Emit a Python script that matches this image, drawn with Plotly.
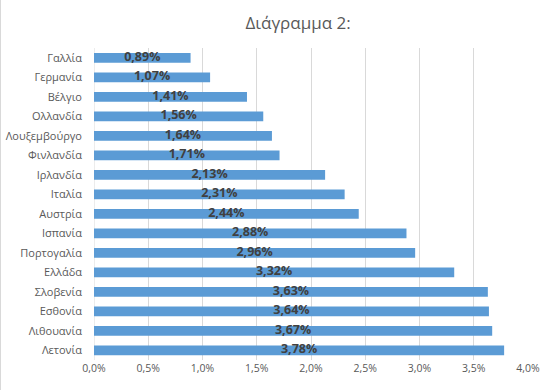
import plotly.graph_objects as go

countries = ["Γαλλία", "Γερμανία", "Βέλγιο", "Ολλανδία", "Λουξεμβούργο", "Φινλανδία",
             "Ιρλανδία", "Ιταλία", "Αυστρία", "Ισπανία", "Πορτογαλία", "Ελλάδα",
             "Σλοβενία", "Εσθονία", "Λιθουανία", "Λετονία"]
values_pct = [0.89, 1.07, 1.41, 1.56, 1.64, 1.71, 2.13, 2.31, 2.44, 2.88, 2.96, 3.32,
              3.63, 3.64, 3.67, 3.78]
tick_vals = [0.0, 0.005, 0.01, 0.015, 0.02, 0.025, 0.03, 0.035, 0.04]

vals = [v / 100 for v in values_pct]
labels = [f"{v:.2f}".replace(".", ",") + "%" for v in values_pct]

font_family = "Open Sans, Liberation Sans, sans-serif"

W, H = 552, 390
L, R, T, B = 94, 24, 48, 30
pw = W - L - R

fig = go.Figure()
fig.add_trace(go.Bar(
    y=countries, x=vals, orientation="h",
    marker=dict(color="#5B9BD5", line=dict(width=0)),
    width=0.5, hoverinfo="skip",
))
fig.add_trace(go.Scatter(
    y=countries, x=[v / 2 for v in vals], mode="text",
    text=labels, textposition="middle center",
    textfont=dict(family=font_family, size=12.5, color="#404040", weight="bold"),
    hoverinfo="skip", cliponaxis=False,
))

fig.update_layout(
    width=W, height=H,
    margin=dict(l=L, r=R, t=T, b=B, autoexpand=False),
    paper_bgcolor="white", plot_bgcolor="white",
    separators=",.",
    showlegend=False,
    title=dict(text="Διάγραμμα 2:", x=0.54, xanchor="center", y=0.942, yanchor="middle",
               font=dict(family=font_family, size=17, color="#595959")),
    xaxis=dict(range=[0, 0.04], tickvals=tick_vals, tickformat=".1%",
               showgrid=True, gridcolor="#D9D9D9", gridwidth=1,
               zeroline=False, showline=False, automargin=False,
               tickfont=dict(family=font_family, size=10.5, color="#595959"),
               ticks=""),
    yaxis=dict(range=[15.5, -0.5], showgrid=False, zeroline=False, automargin=False,
               showline=False, ticks="", ticklabelstandoff=11,
               tickfont=dict(family=font_family, size=11, color="#595959")),
    shapes=[dict(type="line", xref="x", yref="paper", x0=0, x1=0, y0=0, y1=1,
                 line=dict(color="#D9D9D9", width=1), layer="below"),
            dict(type="line", xref="paper", yref="paper", x0=-(L - 0.5) / pw, x1=-(L - 0.5) / pw,
                 y0=-B / (H - T - B), y1=1 + T / (H - T - B),
                 line=dict(color="#D9D9D9", width=1))],
)

fig.write_html("out.html", config={"displayModeBar": False},
               post_script="document.body.style.margin='0';")
